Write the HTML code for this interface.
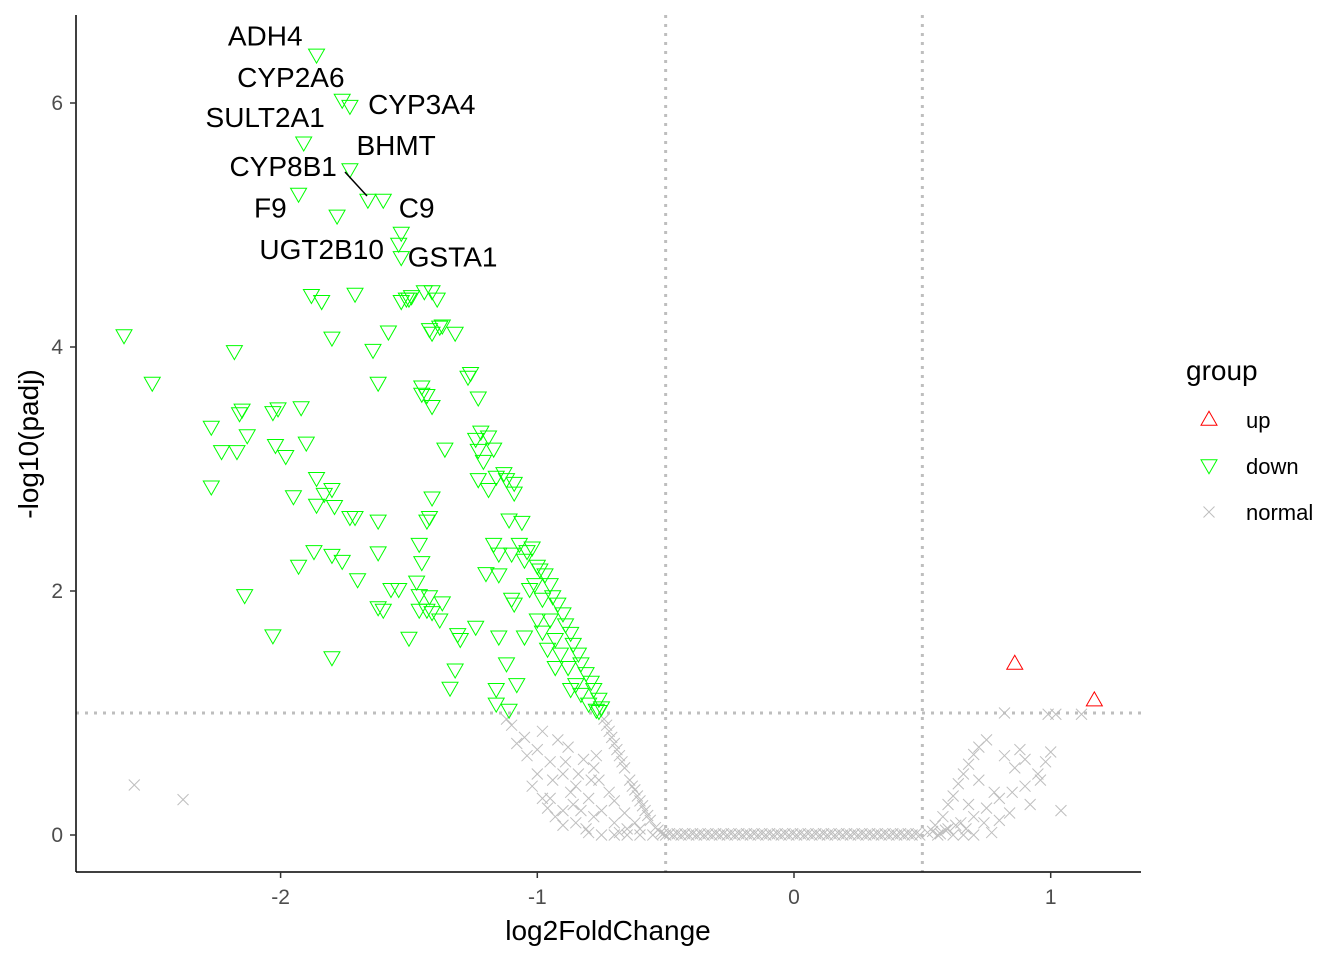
<!DOCTYPE html>
<html><head><meta charset="utf-8"><style>
html,body{margin:0;padding:0;background:#fff;}
svg{display:block;font-family:"Liberation Sans",Arial,sans-serif;}
</style></head><body>
<svg id="chart" width="1344" height="960" viewBox="0 0 1344 960">
<rect x="0" y="0" width="1344" height="960" fill="#fff"/>
<g id="refs"></g>
<g id="normal"></g>
<g id="down"></g>
<g id="up"></g>
<g id="labels"></g>
<g id="axes"></g>
<g id="legend"></g>
</svg>
<script>
const xTicks=[-2,-1,0,1];
const yTicks=[0,2,4,6];
const labelNames=["ADH4","CYP2A6","CYP3A4","SULT2A1","BHMT","CYP8B1","F9","C9","UGT2B10","GSTA1"];
const labelX=[-2.06,-1.96,-1.45,-2.06,-1.55,-1.99,-2.04,-1.47,-1.84,-1.33];
const labelY=[6.48,6.14,5.92,5.81,5.58,5.41,5.07,5.07,4.73,4.67];
const upX=[0.86,1.17];
const upY=[1.41,1.11];
const downX=[-1.86,-1.76,-1.73,-1.91,-1.73,-1.66,-1.93,-1.60,-1.78,-1.53,-1.54,-1.53,
-2.61,-2.50,-2.18,-1.88,-1.84,-1.71,-1.80,-1.64,-1.62,-1.58,-1.53,-1.50,-1.49,-1.44,-1.41,-1.39,-1.51,-1.42,-1.41,-1.38,-1.32,-1.37,-1.45,-1.43,-1.41,-1.45,-1.27,-1.26,-1.23,-1.36,
-2.27,-2.23,-2.17,-2.15,-2.13,-2.16,-2.03,-2.01,-2.02,-1.98,-1.92,-1.90,-2.27,-1.95,-1.86,-1.83,-1.86,-1.80,-1.79,-1.73,-1.71,-1.62,-1.87,-1.93,-1.80,-1.76,-1.70,-1.62,-2.14,-2.03,-1.80,
-1.57,-1.54,-1.60,-1.62,-1.47,-1.46,-1.46,-1.50,-1.43,-1.42,-1.41,-1.37,-1.38,-1.31,-1.30,-1.24,-1.32,-1.34,-1.45,-1.46,-1.42,-1.41,-1.43,
-1.24,-1.23,-1.22,-1.19,-1.17,-1.23,-1.21,-1.19,-1.16,-1.13,-1.12,-1.09,-1.09,-1.17,-1.15,-1.11,-1.06,-1.20,-1.10,-1.09,-1.15,-1.05,-1.12,-1.16,-1.16,-1.11,-1.08,
-1.05,-1.04,-1.02,-1.00,-0.99,-0.97,-0.95,-0.94,-0.92,-0.90,-0.89,-0.87,-0.86,-0.84,-0.83,-0.81,-0.79,-0.78,-0.76,-0.75,
-1.01,-0.98,-0.95,-0.93,-0.91,-0.88,-0.85,-0.83,-0.96,-0.93,-0.87,-0.98,-1.03,-1.00,-1.07,-1.10,-1.15,-0.77,-0.80,-0.76];
const downY=[6.39,6.02,5.97,5.67,5.45,5.20,5.25,5.20,5.07,4.93,4.84,4.73,
4.09,3.70,3.96,4.42,4.37,4.43,4.07,3.97,3.70,4.12,4.37,4.39,4.41,4.45,4.45,4.39,4.39,4.14,4.11,4.16,4.11,4.17,3.67,3.60,3.51,3.61,3.75,3.78,3.58,3.16,
3.34,3.14,3.14,3.48,3.27,3.45,3.46,3.49,3.19,3.10,3.50,3.21,2.85,2.77,2.92,2.79,2.70,2.83,2.69,2.60,2.60,2.57,2.32,2.20,2.29,2.24,2.09,2.31,1.96,1.63,1.45,
2.01,2.01,1.84,1.86,2.07,1.96,1.84,1.61,1.84,1.95,1.82,1.90,1.76,1.64,1.60,1.70,1.35,1.20,2.23,2.38,2.60,2.76,2.57,
3.24,3.15,3.30,3.26,3.16,2.91,3.06,2.83,2.93,2.96,2.91,2.88,2.80,2.38,2.30,2.58,2.56,2.14,1.93,1.89,1.62,1.62,1.40,1.19,1.07,1.02,1.23,
2.25,2.32,2.35,2.20,2.17,2.13,2.05,1.95,1.89,1.81,1.72,1.65,1.56,1.48,1.40,1.32,1.25,1.19,1.11,1.04,
2.05,1.93,1.76,1.60,1.48,1.37,1.23,1.15,1.52,1.37,1.19,1.66,2.01,1.76,2.38,2.30,2.13,1.02,1.07,1.01];
const normX=[-2.57,-2.38,
-0.74,-0.72,-0.70,-0.68,-0.66,-0.64,-0.62,-0.60,-0.58,-0.56,-0.54,-0.52,
-1.10,-1.05,-1.00,-0.95,-0.90,-0.85,-0.80,-0.75,-0.70,-0.65,-1.00,-0.95,-0.90,-0.85,-1.12,-0.98,-0.92,-0.88,-0.82,-0.78,-0.76,-0.72,-0.70,-0.66,-0.62,-0.60,-0.98,-0.96,-0.90,-0.80,-0.75,-0.70,-0.65,-0.60,-0.55,-1.04,-0.94,-0.86,-0.84,-0.78,
-0.73,-0.69,-0.67,-0.63,-0.61,-0.59,-0.57,-0.53,-0.51,-0.71,-0.77,-0.81,-0.87,-0.93,-1.02,-1.08,-0.89,-0.83,-0.79,-0.68,
0.52,0.55,0.58,0.60,0.62,0.64,0.66,0.68,0.70,0.72,0.75,0.60,0.65,0.70,0.75,0.80,0.85,0.90,0.95,0.98,1.00,0.82,0.86,0.90,0.88,0.82,0.99,1.02,1.12,1.04,0.68,0.72,0.66,0.70,0.62,0.56,0.78,0.80,
0.54,0.57,0.59,0.63,0.67,0.74,0.77,0.84,0.92,0.96,
-0.50,-0.485,-0.47,-0.455,-0.44,-0.425,-0.41,-0.395,-0.38,-0.365,-0.35,-0.335,-0.32,-0.305,-0.29,-0.275,-0.26,-0.245,-0.23,-0.215,-0.20,-0.185,-0.17,-0.155,-0.14,-0.125,-0.11,-0.095,-0.08,-0.065,-0.05,-0.035,-0.02,-0.005,0.01,0.025,0.04,0.055,0.07,0.085,0.10,0.115,0.13,0.145,0.16,0.175,0.19,0.205,0.22,0.235,0.25,0.265,0.28,0.295,0.31,0.325,0.34,0.355,0.37,0.385,0.40,0.415,0.43,0.445,0.46,0.475,0.49];
const normY=[0.41,0.29,
0.95,0.85,0.75,0.65,0.55,0.45,0.37,0.28,0.20,0.12,0.06,0.02,
0.90,0.80,0.70,0.60,0.50,0.40,0.30,0.20,0.10,0.05,0.50,0.30,0.20,0.10,0.95,0.85,0.78,0.72,0.62,0.55,0.45,0.35,0.28,0.18,0.10,0.05,0.30,0.22,0.08,0.02,0.00,0.00,0.00,0.00,0.00,0.65,0.45,0.25,0.50,0.15,
0.90,0.70,0.60,0.40,0.32,0.24,0.16,0.04,0.01,0.80,0.65,0.05,0.35,0.15,0.40,0.75,0.60,0.20,0.45,0.02,
0.02,0.08,0.15,0.25,0.32,0.42,0.50,0.58,0.66,0.72,0.78,0.05,0.10,0.15,0.22,0.30,0.35,0.40,0.50,0.60,0.68,0.65,0.55,0.62,0.70,1.00,0.99,0.99,0.99,0.20,0.25,0.45,0.00,0.00,0.00,0.00,0.35,0.12,
0.03,0.01,0.04,0.08,0.05,0.10,0.02,0.18,0.25,0.45,
0,0.01,0,0.01,0,0.01,0,0.01,0,0.01,0,0.01,0,0.01,0,0.01,0,0.01,0,0.01,0,0.01,0,0.01,0,0.01,0,0.01,0,0.01,0,0.01,0,0.01,0,0.01,0,0.01,0,0.01,0,0.01,0,0.01,0,0.01,0,0.01,0,0.01,0,0.01,0,0.01,0,0.01,0,0.01,0,0.01,0,0.01,0,0.01,0,0.01,0];

const NS="http://www.w3.org/2000/svg";
const L=76,R=1141,T=15,B=872;
const sx=v=>794+v*256.7;
const sy=v=>835-v*122;
function mk(tag,attrs,parent,txt){const e=document.createElementNS(NS,tag);for(const k in attrs)e.setAttribute(k,attrs[k]);if(txt!==undefined)e.textContent=txt;parent.appendChild(e);return e;}
const g=id=>document.getElementById(id);

const rl=g('refs');
let e;
e=mk('line',{x1:sx(-0.5),x2:sx(-0.5),y1:T,y2:B,stroke:'#BEBEBE','stroke-width':3,'stroke-dasharray':'3 6'},rl);


e=mk('line',{x1:sx(0.5),x2:sx(0.5),y1:T,y2:B,stroke:'#BEBEBE','stroke-width':3,'stroke-dasharray':'3 6'},rl);


e=mk('line',{x1:L,x2:R,y1:sy(1),y2:sy(1),stroke:'#BEBEBE','stroke-width':3,'stroke-dasharray':'3 6'},rl);



function xmark(cx,cy,parent){const s=5.5;return mk('path',{d:`M${cx-s},${cy-s}L${cx+s},${cy+s}M${cx-s},${cy+s}L${cx+s},${cy-s}`,stroke:'#BEBEBE','stroke-width':1,fill:'none'},parent);}
function tri(cx,cy,down,color,parent){const w=8,h=7;const d=down?`M${cx-w},${cy-h*0.9}L${cx+w},${cy-h*0.9}L${cx},${cy+h*1.1}Z`:`M${cx-w},${cy+h*0.9}L${cx+w},${cy+h*0.9}L${cx},${cy-h*1.1}Z`;return mk('path',{d:d,stroke:color,'stroke-width':1,fill:'none'},parent);}

for(let i=0;i<normX.length;i++){e=xmark(sx(normX[i]),sy(normY[i]),g('normal'));

}
for(let i=0;i<downX.length;i++){e=tri(sx(downX[i]),sy(downY[i]),true,'#00FF00',g('down'));

}
for(let i=0;i<upX.length;i++){e=tri(sx(upX[i]),sy(upY[i]),false,'#FF0000',g('up'));

}

const lg=g('labels');
for(let i=0;i<labelNames.length;i++){e=mk('text',{x:sx(labelX[i]),y:sy(labelY[i])+1,'font-size':28,'text-anchor':'middle',fill:'#000'},lg,labelNames[i]);

}
e=mk('line',{x1:345,y1:172,x2:367,y2:196,stroke:'#000','stroke-width':1.5},lg);



const ax=g('axes');
e=mk('line',{x1:L,x2:L,y1:T,y2:B,stroke:'#000','stroke-width':1.5},ax);


e=mk('line',{x1:L,x2:R,y1:B,y2:B,stroke:'#000','stroke-width':1.5},ax);


xTicks.forEach(t=>{
 e=mk('line',{x1:sx(t),x2:sx(t),y1:B,y2:B+6,stroke:'#333','stroke-width':1.5},ax);
 
 
 e=mk('text',{x:sx(t),y:B+32,'font-size':21,'text-anchor':'middle',fill:'#4D4D4D'},ax,String(t));
 
 
});
yTicks.forEach(t=>{
 e=mk('line',{x1:L-6,x2:L,y1:sy(t),y2:sy(t),stroke:'#333','stroke-width':1.5},ax);
 
 
 e=mk('text',{x:L-13,y:sy(t)+7,'font-size':21,'text-anchor':'end',fill:'#4D4D4D'},ax,String(t));
 
 
});
e=mk('text',{x:608,y:940,'font-size':28,'text-anchor':'middle',fill:'#000'},ax,'log2FoldChange');


e=mk('text',{x:0,y:0,'font-size':28,'text-anchor':'middle',fill:'#000',transform:'translate(38,444) rotate(-90)'},ax,'-log10(padj)');



const lgd=g('legend');
e=mk('text',{x:1186,y:380,'font-size':28,fill:'#000'},lgd,'group');


e=tri(1209,419,false,'#FF0000',lgd);


e=mk('text',{x:1246,y:428,'font-size':22,fill:'#000'},lgd,'up');


e=tri(1209,466,true,'#00FF00',lgd);


e=mk('text',{x:1246,y:474,'font-size':22,fill:'#000'},lgd,'down');


e=xmark(1209,512,lgd);


e=mk('text',{x:1246,y:520,'font-size':22,fill:'#000'},lgd,'normal');


</script>
</body></html>
